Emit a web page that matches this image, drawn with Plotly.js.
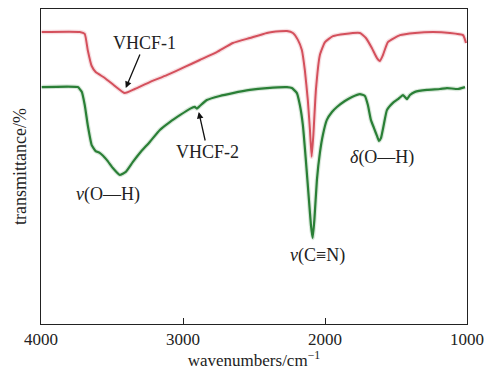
<!DOCTYPE html>
<html>
<head>
<meta charset="utf-8">
<script src="https://cdn.plot.ly/plotly-3.0.1.min.js"></script>
<style>html,body{margin:0;padding:0;background:#fff;}#chart{width:484px;height:370px;}</style>
</head>
<body>
<div id="chart"></div>
<script>
// VHCF-1 (red)
const wn1 = [3995,3727,3692,3671,3643,3615,3551,3481,3410,3339,3234,3114,2987,2882,2762,2649,2529,2409,2318,2268,2226,2191,2163,2142,2121,2106,2094,2082,2064,2036,2000,1944,1860,1754,1712,1670,1634,1613,1592,1557,1472,1366,1240,1120,1028,1007];
const t1  = [92.7,92.7,92.1,87.0,81.9,80.0,78.1,75.6,73.3,74.6,76.8,79.0,81.6,83.8,86.3,89.2,90.8,92.4,92.9,93.0,92.4,90.2,87.0,80.6,71.1,61.6,53.1,60.0,74.3,85.4,89.5,91.4,92.1,92.4,90.8,87.6,84.4,83.5,85.4,89.5,91.7,92.4,92.7,92.4,91.7,89.2];
// VHCF-2 (green)
const wn2 = [3995,3741,3713,3692,3671,3643,3615,3587,3537,3494,3445,3403,3354,3304,3234,3163,3093,3022,2952,2917,2903,2882,2832,2741,2649,2529,2409,2268,2233,2198,2177,2156,2135,2113,2099,2087,2075,2057,2036,2015,1987,1951,1916,1860,1810,1754,1719,1698,1677,1655,1634,1620,1606,1585,1564,1522,1486,1451,1437,1423,1402,1366,1282,1190,1141,1064,1014];
const t2  = [75.2,75.2,73.7,69.5,63.2,56.8,54.9,54.3,52.1,49.5,47.3,48.3,51.4,54.3,57.8,61.6,64.1,66.3,68.3,68.9,68.4,69.2,71.1,72.4,73.3,74.3,74.9,75.2,74.9,73.3,69.5,63.2,52.1,39.4,31.4,27.3,33.0,45.7,54.3,60.0,64.8,67.3,68.9,70.8,72.1,73.0,72.4,69.5,64.8,62.2,59.7,58.1,59.0,63.5,67.9,70.2,71.4,72.7,72.1,71.4,72.7,73.7,74.3,74.6,74.9,74.6,75.2];
const xTicks = [4000,3000,2000,1000];
const xTickText = ['4000','3000','2000','1000'];

const serif = 'Liberation Serif, Times New Roman, serif';
const red = '#d4505c';
const green = '#2a7f36';

const traces = [
  {x: wn1, y: t1, mode: 'lines', line: {color: red, width: 4.5, shape: 'spline', smoothing: 0.4}, opacity: 0.18, hoverinfo: 'skip', showlegend: false},
  {x: wn2, y: t2, mode: 'lines', line: {color: green, width: 4.5, shape: 'spline', smoothing: 0.4}, opacity: 0.18, hoverinfo: 'skip', showlegend: false},
  {x: wn1, y: t1, mode: 'lines', name: 'VHCF-1', line: {color: red, width: 2, shape: 'spline', smoothing: 0.4}, showlegend: false},
  {x: wn2, y: t2, mode: 'lines', name: 'VHCF-2', line: {color: green, width: 2.2, shape: 'spline', smoothing: 0.4}, showlegend: false}
];

const annFont = {family: serif, size: 18, color: '#222'};
const layout = {
  width: 484, height: 370,
  margin: {l: 41, r: 17, t: 9, b: 46},
  paper_bgcolor: '#fff', plot_bgcolor: '#fff',
  showlegend: false,
  xaxis: {
    range: [4000, 1000], tickvals: xTicks, ticktext: xTickText,
    ticks: 'inside', ticklen: 6, tickcolor: '#222', tickwidth: 1,
    ticklabeloverflow: 'allow', automargin: false,
    showline: true, mirror: true, linecolor: '#222', linewidth: 1,
    showgrid: false, zeroline: false,
    tickfont: {family: serif, size: 17, color: '#222'},
    title: {text: 'wavenumbers/cm<sup>−1</sup>', font: {family: serif, size: 17, color: '#222'}, standoff: 3}
  },
  yaxis: {
    range: [0, 100], showticklabels: false, ticks: '',
    showline: true, mirror: true, linecolor: '#222', linewidth: 1,
    showgrid: false, zeroline: false,
    title: {text: 'transmittance/%', font: {family: serif, size: 18, color: '#222'}, standoff: 8}
  },
  annotations: [
    {x: 3403, y: 74.9, ax: 19, ay: -45, text: 'VHCF-1', showarrow: true, arrowhead: 2, arrowsize: 1, arrowwidth: 1.3, arrowcolor: '#111', standoff: 0, font: annFont},
    {x: 2889, y: 67.3, ax: 9, ay: 40, text: 'VHCF-2', showarrow: true, arrowhead: 2, arrowsize: 1, arrowwidth: 1.3, arrowcolor: '#111', standoff: 0, font: annFont},
    {x: 3529, y: 41.0, text: '<i>v</i>(O—H)', showarrow: false, font: annFont},
    {x: 1599, y: 53.0, text: '<i>δ</i>(O—H)', showarrow: false, font: annFont},
    {x: 2056, y: 21.9, text: '<i>v</i>(C≡N)', showarrow: false, font: annFont}
  ]
};

Plotly.newPlot('chart', traces, layout, {displayModeBar: false, staticPlot: true});
</script>
</body>
</html>
